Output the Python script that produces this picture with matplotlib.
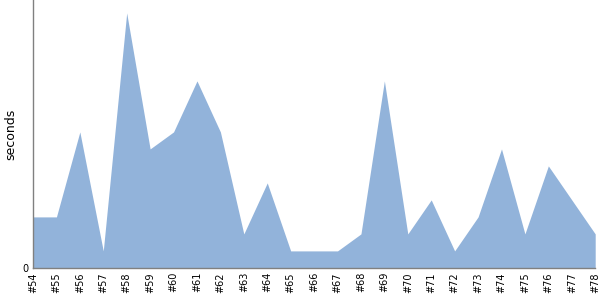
import matplotlib
matplotlib.use("Agg")
import matplotlib.pyplot as plt

builds = ["#%d" % n for n in range(54, 79)]
seconds = [3, 3, 8, 1, 15, 7, 8, 11, 8, 2, 5, 1, 1, 1, 2, 11, 2, 4, 1, 3, 7, 2, 6, 4, 2]

fig = plt.figure(figsize=(6, 3), dpi=100)
ax = fig.add_axes([0.055, 0.107, 0.937, 0.893])
x = list(range(len(builds)))
ax.fill_between(x, seconds, 0, color="#92b3da", linewidth=0)
ax.set_xlim(0, len(builds) - 1)
ax.set_ylim(0, 15.76)
ax.set_xticks(x)
ax.set_xticklabels(builds, rotation=90, fontsize=7)
ax.set_yticks([0])
ax.set_yticklabels(["0"], fontsize=7)
ax.tick_params(length=0, pad=3)
ax.set_ylabel("seconds", fontsize=9)
for s in ["top", "right"]:
    ax.spines[s].set_visible(False)
for s in ["left", "bottom"]:
    ax.spines[s].set_color("#808080")
    ax.spines[s].set_linewidth(1)
fig.savefig("out.png", dpi=100)
